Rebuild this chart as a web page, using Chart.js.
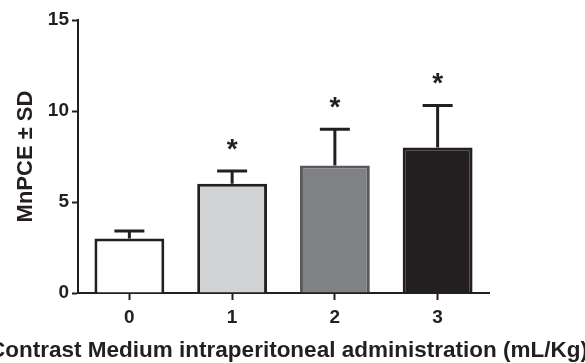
<!DOCTYPE html>
<html>
<head>
<meta charset="utf-8">
<script src="https://cdn.jsdelivr.net/npm/chart.js@4"></script>
<style>
  html, body { margin: 0; padding: 0; background: #fff; }
  #wrap { width: 585px; height: 363px; }
</style>
</head>
<body>
<div id="wrap"><canvas id="c" width="585" height="363"></canvas></div>
<script>
// Dose groups (mL/Kg) and MnPCE means with their standard deviations
const doses = ['0', '1', '2', '3'];
const meanValues = [3.0, 6.0, 7.0, 8.0];
const sdValues = [0.4, 0.7, 2.0, 2.3];
const significance = ['', '*', '*', '*'];
const yTicks = [0, 5, 10, 15];
const xTitle = 'Contrast Medium intraperitoneal administration (mL/Kg)';

const fills = ['#ffffff', '#d1d2d4', '#808184', '#231f20'];
const borders = ['#231f20', '#231f20', '#58595b', '#231f20'];
const ink = '#231f20';
const fontFamily = 'Arial, "Liberation Sans", Helvetica, sans-serif';

// Draws the SD whiskers and significance marks above each bar
const errorBarPlugin = {
  id: 'errorBars',
  afterDatasetsDraw(chart) {
    const ctx = chart.ctx;
    const meta = chart.getDatasetMeta(0);
    const y = chart.scales.y;
    ctx.save();
    meta.data.forEach((bar, i) => {
      const cx = bar.x;
      const top = y.getPixelForValue(meanValues[i] + sdValues[i]);
      const base = y.getPixelForValue(meanValues[i]);
      ctx.strokeStyle = ink;
      ctx.lineWidth = 3;
      ctx.lineCap = 'butt';
      ctx.beginPath();
      ctx.moveTo(cx, base);
      ctx.lineTo(cx, top);
      ctx.moveTo(cx - 15, top);
      ctx.lineTo(cx + 15, top);
      ctx.stroke();
      if (significance[i]) {
        ctx.fillStyle = ink;
        ctx.font = 'bold 28px ' + fontFamily;
        ctx.textAlign = 'center';
        ctx.textBaseline = 'middle';
        ctx.fillText(significance[i], cx, top - 21);
      }
    });
    ctx.restore();
  }
};

// X-axis title drawn at full width (wider than the plot area, runs off the left edge)
const xTitlePlugin = {
  id: 'xTitle',
  afterDraw(chart) {
    const ctx = chart.ctx;
    const area = chart.chartArea;
    ctx.save();
    ctx.fillStyle = ink;
    ctx.font = 'bold 22.5px ' + fontFamily;
    ctx.textAlign = 'center';
    ctx.textBaseline = 'alphabetic';
    ctx.fillText(xTitle, (area.left + area.right) / 2 + 5, area.bottom + 64);
    ctx.restore();
  }
};

new Chart(document.getElementById('c'), {
  type: 'bar',
  data: {
    labels: doses,
    datasets: [{
      data: meanValues,
      backgroundColor: fills,
      borderColor: borders,
      borderWidth: 3,
      borderSkipped: 'bottom',
      categoryPercentage: 0.68,
      barPercentage: 1.0
    }]
  },
  options: {
    responsive: false,
    animation: false,
    devicePixelRatio: 1,
    layout: { padding: { top: 20, right: 96, left: 0, bottom: 0 } },
    plugins: {
      legend: { display: false },
      tooltip: { enabled: false }
    },
    scales: {
      x: {
        offset: true,
        grid: {
          offset: false,
          drawOnChartArea: false,
          drawTicks: true,
          tickLength: 7,
          tickWidth: 2,
          tickColor: ink
        },
        border: { display: true, color: ink, width: 2 },
        ticks: {
          color: ink,
          padding: 6,
          font: { family: fontFamily, size: 19, weight: 'bold' }
        },
        title: { display: false },
        afterFit(scale) { scale.height = 70; }
      },
      y: {
        min: 0,
        max: 15,
        afterBuildTicks(scale) { scale.ticks = yTicks.map(v => ({ value: v })); },
        grid: {
          drawOnChartArea: false,
          drawTicks: true,
          tickLength: 6,
          tickWidth: 2,
          tickColor: ink
        },
        border: { display: true, color: ink, width: 2 },
        ticks: {
          color: ink,
          padding: 3,
          font: { family: fontFamily, size: 19, weight: 'bold' }
        },
        title: {
          display: true,
          text: 'MnPCE ± SD',
          color: ink,
          padding: { top: 13, bottom: 2 },
          font: { family: fontFamily, size: 22, weight: 'bold' }
        },
        afterFit(scale) { scale.width = 78; }
      }
    }
  },
  plugins: [errorBarPlugin, xTitlePlugin]
});
</script>
</body>
</html>
